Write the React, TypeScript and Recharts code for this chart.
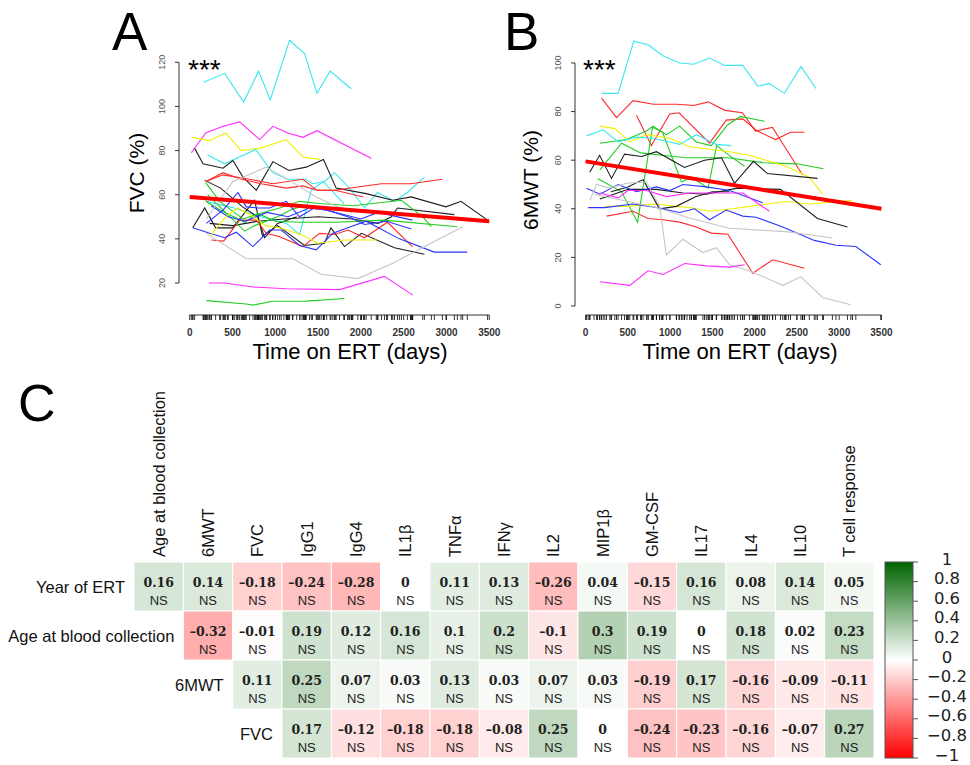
import React from 'react';
import {
  ComposedChart,
  Line,
  Scatter,
  ScatterChart,
  BarChart,
  Bar,
  XAxis,
  YAxis,
  ReferenceLine,
  Label,
} from 'recharts';

type Pt = [number, number];

// ---- panels A / B : time on ERT ----
const dayTicks = [0, 500, 1000, 1500, 2000, 2500, 3000, 3500];
const fvcTicks = [20, 40, 60, 80, 100, 120];
const walkTicks = [0, 20, 40, 60, 80, 100];

const fvcLines: Pt[][] = [
  [[163, 111], [408, 115], [630, 102], [805, 116], [941, 103], [1167, 130], [1342, 124], [1486, 106], [1641, 116], [1886, 108]],
  [[19, 79], [187, 88], [389, 91], [583, 93], [817, 85], [972, 91], [1147, 88], [1322, 86], [1486, 89], [2120, 76.5]],
  [[19, 86], [233, 84.5], [420, 88], [603, 80], [817, 81], [1128, 85], [1330, 77], [1517, 76]],
  [[210, 78], [408, 74], [770, 80.5], [968, 70], [1143, 67], [1353, 67], [1435, 65], [1575, 66], [1692, 70], [1867, 63], [2042, 54], [2193, 61], [2392, 57], [2543, 61], [2742, 68]],
  [[190, 57], [520, 54], [830, 50], [1130, 47], [1283, 42], [1420, 62], [1560, 66], [1800, 56]],
  [[58, 81], [156, 74], [389, 72], [505, 75.5], [622, 68], [778, 62], [972, 75], [1159, 71], [1361, 72.5], [1563, 76], [1711, 63], [2061, 60.5], [2372, 57.5], [2586, 59], [2994, 54.5], [3169, 57], [3480, 48.5]],
  [[233, 47], [500, 46], [800, 48], [1100, 49], [1500, 50], [1900, 49], [2200, 47], [2357, 50], [2427, 54], [3092, 51]],
  [[35, 45], [175, 54], [303, 45], [502, 45], [758, 57.5], [852, 41], [1027, 46], [1342, 37], [1575, 38], [1650, 45], [1808, 36.5], [2007, 42.5], [2392, 36], [2742, 33]],
  [[175, 66.5], [361, 63], [618, 54.5], [793, 50], [875, 40.5], [1027, 47], [1250, 50]],
  [[190, 66], [389, 70], [603, 67], [836, 65], [1128, 63], [1322, 64], [1486, 62], [1692, 62], [2240, 65], [2580, 65], [2952, 67]],
  [[190, 66], [389, 69], [700, 67], [972, 65], [1322, 67], [1486, 62], [1700, 62], [2030, 59]],
  [[253, 39.5], [397, 39], [583, 48.5], [778, 48.5], [894, 42.5], [1050, 41], [1322, 36.5], [1517, 42.5], [1692, 42], [1850, 44], [2042, 40.5], [2310, 47.5], [2602, 36.5]],
  [[187, 65.5], [350, 57], [622, 49], [817, 51.5], [1050, 54], [1283, 57], [1517, 56], [1906, 55], [2473, 57.5], [2722, 50], [2823, 45.5]],
  [[187, 57], [361, 53], [642, 47.5], [793, 51.5], [1000, 48], [1300, 47.5], [1700, 47.5], [2275, 48.5], [3127, 45.5]],
  [[210, 60], [443, 51], [642, 43.5], [758, 46], [1027, 50], [1200, 53.5], [1350, 55]],
  [[194, 12], [661, 10.5], [739, 10], [972, 11.7], [1361, 11.8], [1808, 13]],
  [[39, 45], [233, 42.5], [408, 40.5], [544, 43], [739, 36.5], [933, 44], [1069, 44], [1283, 37], [1478, 35], [1672, 42.5], [1847, 45], [2061, 48], [2450, 40], [2858, 34], [3243, 34]],
  [[194, 47], [389, 53], [564, 61], [661, 54.5], [797, 54], [933, 54], [1128, 57], [1283, 50], [1478, 54.5], [1692, 52], [1890, 49.5], [2042, 46.5], [2300, 48], [2590, 44.5]],
  [[250, 55], [450, 50], [650, 48], [900, 52], [1150, 50], [1400, 54], [1600, 53], [1800, 51], [2000, 49], [2200, 52], [2602, 48.5]],
  [[194, 49], [505, 66], [894, 72.5], [1167, 66.5], [1478, 59], [1700, 55], [1900, 52]],
  [[194, 42.5], [661, 31], [1206, 31], [1536, 24], [1964, 22], [2372, 29], [3189, 45.5]],
  [[226, 20], [408, 20], [739, 18.2], [1128, 17.4], [1750, 17], [2275, 23], [2606, 14.5]],
  [[233, 41], [420, 50], [560, 54], [700, 51], [890, 46], [1050, 45], [1300, 42], [1500, 38], [1800, 39.5], [2180, 39.5]],
];
const fvcColors = ['cyan', 'magenta', 'yellow', 'cyan', 'cyan', 'black', 'black', 'black', 'black', 'red', 'red', 'red', 'green', 'green', 'green', 'green', 'blue', 'blue', 'blue', 'gray', 'gray', 'magenta', 'yellow'];
const fvcFit: Pt[] = [[0, 59], [3500, 48]];

const walkLines: Pt[][] = [
  [[189, 87.5], [385, 87.5], [570, 109], [740, 107.5], [916, 103], [1113, 100], [1278, 99.5], [1467, 102], [1644, 99], [1860, 99], [2037, 90.5], [2175, 91.5], [2352, 87.5], [2548, 98.5], [2725, 89.5]],
  [[189, 85.5], [366, 77.5], [562, 84.5], [802, 83], [1077, 83], [1282, 82.5], [1451, 84], [1648, 80.5], [1856, 79.5], [2010, 72], [2211, 73.5], [2365, 65], [2566, 54]],
  [[602, 78.5], [779, 66], [995, 79], [1105, 79.5], [1467, 67], [1664, 76.5], [1860, 77], [2030, 72], [2247, 68.5], [2424, 71.5], [2589, 71.5]],
  [[248, 37], [562, 39], [739, 36], [916, 35.5], [1113, 34.5], [1310, 32.5], [1487, 30], [1683, 29.5], [1978, 13.5], [2214, 19], [2588, 15.5]],
  [[169, 67], [484, 68.5], [720, 72], [798, 74], [956, 70.5], [1113, 74], [1310, 67.5], [1487, 66], [1679, 74.5], [1833, 78], [2117, 76]],
  [[142, 52.5], [426, 47], [615, 34.5], [792, 73.5], [910, 71.5], [1135, 51], [1253, 53], [1450, 48.5], [1550, 66], [1700, 62], [1880, 57.5]],
  [[169, 56], [426, 67], [650, 63], [900, 62], [1200, 61], [1500, 61], [1679, 61], [2100, 59], [2500, 58.5], [2814, 56.5]],
  [[169, 74], [346, 73], [523, 67.5], [720, 70.5], [995, 69], [1231, 65.5], [1467, 64.5], [1703, 63.5], [1939, 62], [2135, 60], [2372, 57.5], [2647, 53], [2804, 46]],
  [[228, 41], [484, 41], [838, 42], [1074, 41], [1231, 40.5], [1467, 39], [1742, 40], [2057, 41.5], [2372, 43], [2647, 42], [3158, 43.5]],
  [[12, 70], [208, 72.5], [385, 67.5], [602, 69.5], [798, 69], [995, 67.5], [1113, 66.5], [1310, 70.5], [1546, 66.5], [1723, 66]],
  [[49, 55], [166, 62], [307, 52.5], [461, 62.5], [662, 61.5], [839, 63.5], [1170, 57], [1407, 60], [1608, 61], [1762, 50.5], [1986, 59.5], [2152, 54.5], [2743, 52.5]],
  [[169, 44], [503, 48], [838, 48], [1152, 46.5], [1428, 46], [1797, 48.5], [2306, 48], [2743, 36], [3098, 32.5]],
  [[300, 47], [500, 49], [680, 52], [875, 40], [1074, 41], [1300, 45], [1500, 47], [1700, 47]],
  [[12, 48.5], [169, 46], [385, 50], [602, 47], [838, 49], [995, 47.5], [1152, 50], [1428, 49], [1703, 47.5], [2096, 42.5]],
  [[31, 40.5], [228, 40.5], [562, 42], [838, 40.5], [1113, 38.5], [1290, 40], [1467, 35.5], [1664, 39.5], [1860, 37], [2018, 36.5], [2332, 32.5], [2568, 29], [2706, 27], [2962, 25], [3197, 24.5], [3492, 17]],
  [[51, 43.5], [130, 50], [287, 48.5], [484, 50.5], [720, 51], [877, 41], [956, 21], [1152, 27.5], [1388, 22], [1546, 24], [1703, 17], [1939, 14.5], [2332, 8.5], [2548, 12], [2804, 3.5], [3138, 0.5]],
  [[100, 46], [500, 43], [838, 40.5], [1250, 36], [1700, 32], [2400, 30.5], [2920, 28]],
  [[169, 10], [523, 8.5], [740, 14.5], [916, 13], [1172, 17.5], [1428, 16.5], [1703, 16], [1880, 17]],
  [[169, 46.5], [385, 44.5], [503, 47.5], [720, 47.5], [956, 45], [1231, 46.5], [1624, 46.5], [1860, 46.5], [2175, 39]],
];
const walkColors = ['cyan', 'red', 'red', 'red', 'green', 'green', 'green', 'yellow', 'yellow', 'cyan', 'black', 'black', 'black', 'blue', 'blue', 'gray', 'gray', 'magenta', 'magenta'];
const walkFit: Pt[] = [[0, 59.5], [3500, 40]];

// ---- panel C : correlation matrix ----
const heatColumns = ['Age at blood collection', '6MWT', 'FVC', 'IgG1', 'IgG4', 'IL1β', 'TNFα', 'IFNγ', 'IL2', 'MIP1β', 'GM-CSF', 'IL17', 'IL4', 'IL10', 'T cell response'];
const heatRows = ['Year of ERT', 'Age at blood collection', '6MWT', 'FVC'];
const heatRowStart = [0, 1, 2, 3];
const yearOfErtR = [0.16, 0.14, -0.18, -0.24, -0.28, 0, 0.11, 0.13, -0.26, 0.04, -0.15, 0.16, 0.08, 0.14, 0.05];
const ageR = [-0.32, -0.01, 0.19, 0.12, 0.16, 0.1, 0.2, -0.1, 0.3, 0.19, 0, 0.18, 0.02, 0.23];
const walkR = [0.11, 0.25, 0.07, 0.03, 0.13, 0.03, 0.07, 0.03, -0.19, 0.17, -0.16, -0.09, -0.11];
const fvcR = [0.17, -0.12, -0.18, -0.18, -0.08, 0.25, 0, -0.24, -0.23, -0.16, -0.07, 0.27];
const heatSig = ['NS', 'NS', 'NS', 'NS'];
const scaleTicks = [-1, -0.8, -0.6, -0.4, -0.2, 0, 0.2, 0.4, 0.6, 0.8, 1];

const PALETTE: Record<string, string> = {
  black: '#1e1e1e',
  red: '#ff2a2a',
  green: '#22cc22',
  blue: '#2b35ff',
  cyan: '#3ae6f2',
  magenta: '#ff2cff',
  yellow: '#f0f000',
  gray: '#c6c6c6',
};

const SANS = '"Liberation Sans", Arial, sans-serif';

function corrColor(v: number) {
  if (v >= 0) {
    const r = Math.round(255 * (1 - v));
    const g = Math.round(255 - 155 * v);
    return `rgb(${r},${g},${r})`;
  }
  const c = Math.round(255 * (1 + v));
  return `rgb(255,${c},${c})`;
}

const fmtR = (v: number) => String(v).replace('-', '–');
const fmtScale = (v: number) => String(v).replace('-', '−');

interface PanelProps {
  lines: Pt[][];
  colors: string[];
  fit: Pt[];
  yDomain: [number, number];
  yTicks: number[];
  yTitle: string;
  yAxisWidth: number;
  marginRight: number;
  yTitleX: number;
  yTitleY: number;
  xTitleX: number;
}

const X_DOMAIN: [number, number] = [-125, 3625];

function TrendPanel(p: PanelProps) {
  const rug = Array.from(new Set(p.lines.flat().map((d) => d[0]))).sort((a, b) => a - b);
  const rugData = rug.map((t) => ({ t, v: p.yDomain[0] }));
  const axisColor = '#333';
  return (
    <ComposedChart width={420} height={370} margin={{ top: 27, right: p.marginRight, bottom: 0, left: 0 }}>
      <XAxis
        type="number"
        dataKey="t"
        domain={X_DOMAIN}
        ticks={dayTicks}
        interval={0}
        axisLine={false}
        tickLine={{ stroke: axisColor }}
        tickSize={5}
        height={55}
        tick={(t: any) => (
          <text x={t.x} y={t.y} dy={14} textAnchor="middle" fontSize={10} fontWeight="bold" fill="#333" fontFamily={SANS}>
            {t.payload.value}
          </text>
        )}
      >
        <Label
          content={() => (
            <text x={p.xTitleX} y={359} textAnchor="middle" fontSize={22} fill="#000" fontFamily={SANS}>
              Time on ERT (days)
            </text>
          )}
        />
      </XAxis>
      <YAxis
        type="number"
        dataKey="v"
        domain={p.yDomain}
        ticks={p.yTicks}
        interval={0}
        axisLine={false}
        tickLine={{ stroke: axisColor }}
        tickSize={4}
        width={p.yAxisWidth}
        tick={(t: any) => {
          const bx = t.x - 8;
          return (
            <text x={bx} y={t.y} transform={`rotate(-90, ${bx}, ${t.y})`} textAnchor="middle" fontSize={9} fill="#555" fontFamily={SANS}>
              {t.payload.value}
            </text>
          );
        }}
      >
        <Label
          content={() => (
            <text x={p.yTitleX} y={p.yTitleY} transform={`rotate(-90, ${p.yTitleX}, ${p.yTitleY})`} textAnchor="middle" fontSize={21} fill="#000" fontFamily={SANS}>
              {p.yTitle}
            </text>
          )}
        />
      </YAxis>
      <ReferenceLine segment={[{ x: 0, y: p.yDomain[0] }, { x: 3500, y: p.yDomain[0] }]} stroke={axisColor} ifOverflow="visible" />
      <ReferenceLine
        segment={[{ x: X_DOMAIN[0], y: p.yTicks[0] }, { x: X_DOMAIN[0], y: p.yTicks[p.yTicks.length - 1] }]}
        stroke={axisColor}
        ifOverflow="visible"
      />
      {p.lines.map((pts, i) => (
        <Line
          key={i}
          data={pts.map(([t, v]) => ({ t, v }))}
          dataKey="v"
          stroke={PALETTE[p.colors[i]]}
          strokeWidth={1.1}
          dot={false}
          activeDot={false}
          isAnimationActive={false}
        />
      ))}
      <Line
        data={p.fit.map(([t, v]) => ({ t, v }))}
        dataKey="v"
        stroke="#ff0000"
        strokeWidth={4}
        dot={false}
        activeDot={false}
        isAnimationActive={false}
      />
      <Scatter
        data={rugData}
        isAnimationActive={false}
        shape={(s: any) => <line x1={s.cx} x2={s.cx} y1={s.cy} y2={s.cy + 5} stroke="#000" strokeWidth={0.8} />}
      />
    </ComposedChart>
  );
}

const HEAT_W = 880;
const HEAT_H = 380;
const HEAT_MARGIN = { top: 0, right: 6, bottom: 2, left: 134 };
const HEAT_AXIS_H = 182;

function Heatmap() {
  const rowValues = [yearOfErtR, ageR, walkR, fvcR];
  const cells = rowValues.flatMap((vals, r) =>
    vals.map((v, i) => ({ col: heatRowStart[r] + i, row: r, v, sig: heatSig[r] }))
  );
  const rowLabels = heatRows.map((name, r) => ({ col: heatRowStart[r] - 0.5, row: r, name }));
  const cellW = (HEAT_W - HEAT_MARGIN.left - HEAT_MARGIN.right) / heatColumns.length;
  const cellH = (HEAT_H - HEAT_MARGIN.top - HEAT_MARGIN.bottom - HEAT_AXIS_H) / heatRows.length;

  return (
    <ScatterChart width={HEAT_W} height={HEAT_H} margin={HEAT_MARGIN}>
      <XAxis
        type="number"
        dataKey="col"
        orientation="top"
        domain={[-0.5, heatColumns.length - 0.5]}
        ticks={heatColumns.map((_, i) => i)}
        interval={0}
        axisLine={false}
        tickLine={false}
        tickSize={0}
        tickMargin={0}
        height={HEAT_AXIS_H}
        tick={(t: any) => {
          const bx = t.x + 6;
          const by = t.y - 5;
          return (
            <text x={bx} y={by} transform={`rotate(-90, ${bx}, ${by})`} textAnchor="start" fontSize={16.5} fill="#111" fontFamily={SANS}>
              {heatColumns[t.payload.value]}
            </text>
          );
        }}
      />
      <YAxis type="number" dataKey="row" domain={[-0.5, heatRows.length - 0.5]} reversed hide />
      <Scatter
        data={cells}
        isAnimationActive={false}
        shape={(s: any) => (
          <g>
            <rect x={s.cx - cellW / 2} y={s.cy - cellH / 2} width={cellW} height={cellH} fill={corrColor(s.payload.v)} stroke="#fff" strokeWidth={1} />
            <text x={s.cx} y={s.cy} textAnchor="middle" fontSize={12.5} fontWeight="bold" fill="#222" fontFamily='"DejaVu Serif", serif'>
              {fmtR(s.payload.v)}
            </text>
            <text x={s.cx} y={s.cy + 18} textAnchor="middle" fontSize={13} fill="#222" fontFamily={SANS}>
              {s.payload.sig}
            </text>
          </g>
        )}
      />
      <Scatter
        data={rowLabels}
        isAnimationActive={false}
        shape={(s: any) => (
          <text x={s.cx - 9} y={s.cy + 6} textAnchor="end" fontSize={16.5} fill="#111" fontFamily={SANS}>
            {s.payload.name}
          </text>
        )}
      />
    </ScatterChart>
  );
}

function ColorScale() {
  const data = [{ name: 'r', span: [scaleTicks[0], scaleTicks[scaleTicks.length - 1]] }];
  return (
    <BarChart width={100} height={240} data={data} margin={{ top: 22, right: 0, bottom: 22, left: 15 }} barCategoryGap={0}>
      <XAxis dataKey="name" hide />
      <YAxis
        orientation="right"
        type="number"
        domain={[-1, 1]}
        ticks={scaleTicks}
        interval={0}
        axisLine={false}
        tickLine={{ stroke: '#555' }}
        tickSize={5}
        width={57}
        tick={(t: any) => (
          <text x={t.x + 27} y={t.y + 2.5} textAnchor="middle" fontSize={16.5} fill="#222" fontFamily='"DejaVu Sans", sans-serif'>
            {fmtScale(t.payload.value)}
          </text>
        )}
      />
      <Bar
        dataKey="span"
        isAnimationActive={false}
        shape={(s: any) => (
          <g>
            <defs>
              <linearGradient id="corrGrad" x1="0" y1="0" x2="0" y2="1">
                <stop offset="0" stopColor="#006400" />
                <stop offset="0.5" stopColor="#ffffff" />
                <stop offset="1" stopColor="#ff0000" />
              </linearGradient>
            </defs>
            <rect x={s.x} y={s.y} width={s.width} height={s.height} fill="url(#corrGrad)" stroke="#555" strokeWidth={1} />
          </g>
        )}
      />
    </BarChart>
  );
}

export default function App() {
  return (
    <div style={{ position: 'absolute', left: 0, top: 0, width: 970, height: 765, background: '#fff', fontFamily: SANS }}>
      <div style={{ position: 'absolute', left: 100, top: 0 }}>
        <TrendPanel
          lines={fvcLines}
          colors={fvcColors}
          fit={fvcFit}
          yDomain={[5.5, 136]}
          yTicks={fvcTicks}
          yTitle="FVC (%)"
          yAxisWidth={79}
          marginRight={20}
          yTitleX={44}
          yTitleY={173}
          xTitleX={250}
        />
      </div>
      <div style={{ position: 'absolute', left: 490, top: 0 }}>
        <TrendPanel
          lines={walkLines}
          colors={walkColors}
          fit={walkFit}
          yDomain={[-3.7, 114.8]}
          yTicks={walkTicks}
          yTitle="6MWT (%)"
          yAxisWidth={85}
          marginRight={18}
          yTitleX={48}
          yTitleY={180}
          xTitleX={250}
        />
      </div>
      <div style={{ position: 'absolute', left: 0, top: 380 }}>
        <Heatmap />
      </div>
      <div style={{ position: 'absolute', left: 870, top: 540 }}>
        <ColorScale />
      </div>
      <svg width={970} height={765} style={{ position: 'absolute', left: 0, top: 0, pointerEvents: 'none' }}>
        <text x={112} y={50} fontSize={53} fontFamily={SANS} fill="#000">A</text>
        <text x={504} y={50} fontSize={53} fontFamily={SANS} fill="#000">B</text>
        <text x={18} y={421} fontSize={52} fontFamily={SANS} fill="#000">C</text>
        <text x={188} y={79} fontSize={28} fontFamily={SANS} fill="#000">***</text>
        <text x={583} y={79} fontSize={28} fontFamily={SANS} fill="#000">***</text>
      </svg>
    </div>
  );
}
